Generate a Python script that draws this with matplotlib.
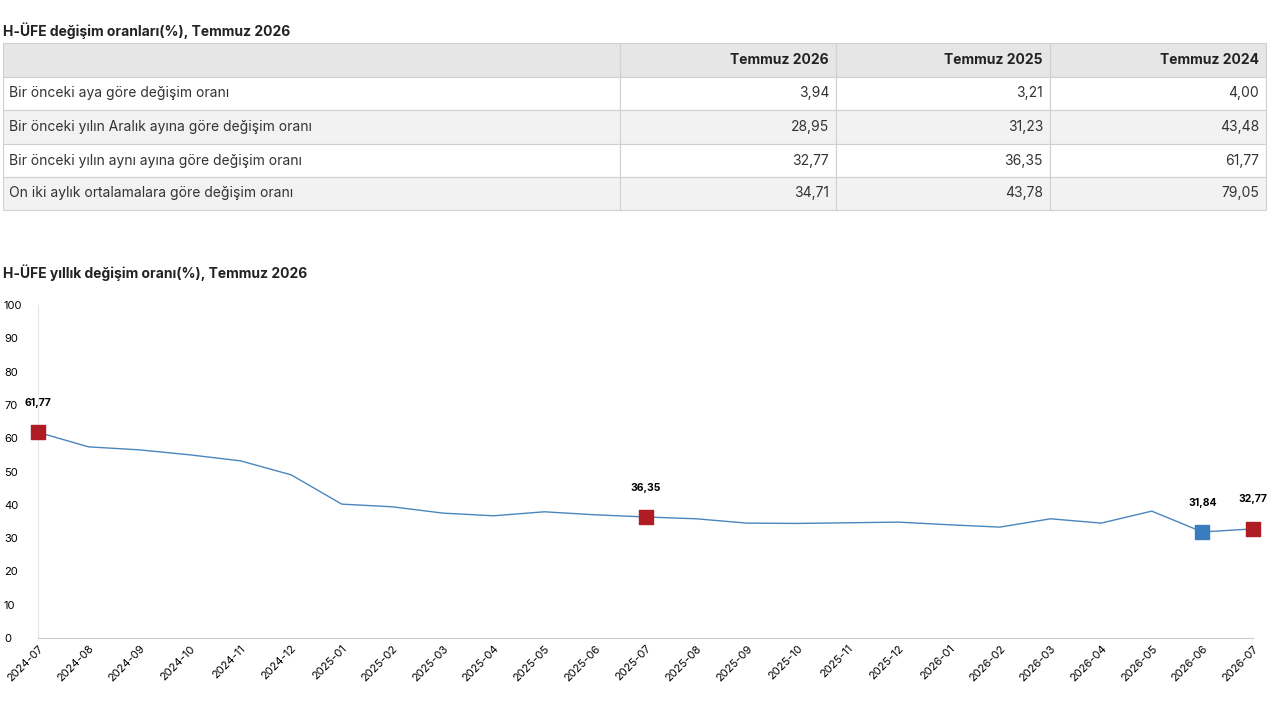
import matplotlib
matplotlib.use("Agg")
import matplotlib.pyplot as plt
from matplotlib.patches import Rectangle

plt.rcParams['font.family'] = ['Inter', 'DejaVu Sans']

# table data
col_heads = ["Temmuz 2026", "Temmuz 2025", "Temmuz 2024"]
row_names = ["Bir önceki aya göre değişim oranı",
             "Bir önceki yılın Aralık ayına göre değişim oranı",
             "Bir önceki yılın aynı ayına göre değişim oranı",
             "On iki aylık ortalamalara göre değişim oranı"]
table_vals = [["3,94", "3,21", "4,00"],
              ["28,95", "31,23", "43,48"],
              ["32,77", "36,35", "61,77"],
              ["34,71", "43,78", "79,05"]]

# line data
months = ["2024-07", "2024-08", "2024-09", "2024-10", "2024-11", "2024-12",
          "2025-01", "2025-02", "2025-03", "2025-04", "2025-05", "2025-06",
          "2025-07", "2025-08", "2025-09", "2025-10", "2025-11", "2025-12",
          "2026-01", "2026-02", "2026-03", "2026-04", "2026-05", "2026-06", "2026-07"]
values = [61.77, 57.4, 56.5, 55.0, 53.2, 49.0, 40.2, 39.4, 37.5, 36.7, 37.9, 37.0,
          36.35, 35.8, 34.5, 34.4, 34.6, 34.8, 34.0, 33.3, 35.8, 34.5, 38.1, 31.84, 32.77]
red_idx = [0, 12, 24]
blue_idx = [23]

W, H = 1280, 720
fig = plt.figure(figsize=(12.8, 7.2), dpi=100)

def fx(px): return px / W
def fy(py): return 1 - py / H

fig.text(fx(3), fy(31), "H-ÜFE değişim oranları(%), Temmuz 2026", fontsize=10,
         fontweight='bold', va='center', ha='left', color='#222222')

col_x = [3, 620, 836, 1050, 1266]
row_y = [43, 77, 110, 144, 177, 210]
for r in range(5):
    y0, y1 = row_y[r], row_y[r + 1]
    face = '#e6e6e6' if r == 0 else ('#f2f2f2' if r % 2 == 0 else 'white')
    for c in range(4):
        fig.patches.append(Rectangle((fx(col_x[c]), fy(y1)), fx(col_x[c + 1] - col_x[c]),
                                     (y1 - y0) / H, transform=fig.transFigure,
                                     facecolor=face, edgecolor='#d0d0d0', lw=0.8))
    ym = fy((y0 + y1) / 2)
    if r == 0:
        for c, h in enumerate(col_heads):
            fig.text(fx(col_x[c + 2] - 7), ym, h, fontsize=10, fontweight='bold',
                     ha='right', va='center', color='#222222')
    else:
        fig.text(fx(col_x[0] + 6), ym, row_names[r - 1], fontsize=10, ha='left',
                 va='center', color='#333333')
        for c, v in enumerate(table_vals[r - 1]):
            fig.text(fx(col_x[c + 2] - 7), ym, v, fontsize=10, ha='right',
                     va='center', color='#333333')

fig.text(fx(3), fy(273), "H-ÜFE yıllık değişim oranı(%), Temmuz 2026", fontsize=10,
         fontweight='bold', va='center', ha='left', color='#222222')

ax = fig.add_axes([fx(38), fy(638), fx(1253 - 38), (638 - 305) / H])
x = list(range(len(months)))
ax.plot(x, values, color='#4a86bb', lw=1)
ax.scatter([x[i] for i in red_idx], [values[i] for i in red_idx], marker='s', s=110,
           color='#b01c24', zorder=3, clip_on=False)
ax.scatter([x[i] for i in blue_idx], [values[i] for i in blue_idx], marker='s', s=110,
           color='#3a7cc0', zorder=3, clip_on=False)
for i in red_idx + blue_idx:
    ax.annotate(f"{values[i]:.2f}".replace('.', ','), (x[i], values[i]),
                xytext=(0, 19), textcoords='offset points', ha='center',
                fontsize=7.5, fontweight='bold')
ax.set_xlim(0, len(months) - 1)
ax.set_ylim(0, 100)
ax.set_yticks(range(0, 101, 10))
ax.set_xticks(x)
ax.set_xticklabels(months, rotation=45, ha='right', rotation_mode='anchor', fontsize=8)
ax.tick_params(axis='y', labelsize=8, length=0, pad=0)
ax.tick_params(axis='x', length=0, pad=4)
for s in ['top', 'right']:
    ax.spines[s].set_visible(False)
ax.spines['bottom'].set_color('#cccccc')
ax.spines['left'].set_color('#e6e6e6')
for lab in ax.get_yticklabels():
    lab.set_horizontalalignment('left')
    lab.set_x(-0.028)

fig.savefig("out.png", dpi=100)
